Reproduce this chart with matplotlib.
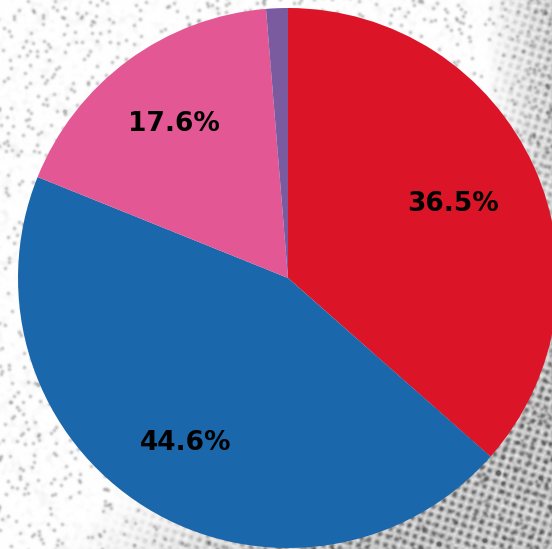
import numpy as np
import matplotlib
matplotlib.use("Agg")
import matplotlib.pyplot as plt

# Share of each group, clockwise from 12 o'clock
labels = ["Red", "Blue", "Pink", "Purple"]
shares = [36.5, 44.6, 17.6, 1.3]
colors = ["#DC1428", "#1A67AB", "#E35795", "#7A5B9F"]
label_dist = [0.67, 0.72, 0.71, 0.7]  # radial position of each percentage label

W, H = 552, 549
cx, cy, R = 288, 278, 270  # pie centre and radius in pixels

fig = plt.figure(figsize=(W / 100, H / 100), dpi=100)
ax = fig.add_axes([0, 0, 1, 1])
ax.set_xlim(-cx, W - cx)
ax.set_ylim(-(H - cy), cy)
ax.set_aspect("equal")
ax.axis("off")


def blur(img, sigma):
    """Gaussian blur via FFT."""
    h, w = img.shape
    fy = np.fft.fftfreq(h)[:, None]
    fx = np.fft.fftfreq(w)[None, :]
    k = np.exp(-2 * (np.pi * sigma) ** 2 * (fx ** 2 + fy ** 2))
    return np.real(np.fft.ifft2(np.fft.fft2(img) * k))


# Burlap-like paper texture behind the pie
rng = np.random.default_rng(11)
yy, xx = np.mgrid[0:H, 0:W].astype(float)
weave = (0.5 + 0.5 * np.sin(2 * np.pi * (xx * 0.95 + yy * 0.3) / 8.5)) * \
        (0.5 + 0.5 * np.sin(2 * np.pi * (yy * 0.95 - xx * 0.3) / 8.5))
weave = blur(weave + 0.6 * rng.random((H, W)), 1.0)
weave = (weave - weave.min()) / (weave.max() - weave.min())
mask = np.clip((xx / W - 0.55) * 2.2 + (yy / H - 0.55) * 2.2, 0, 1) ** 1.2
mask = np.maximum(mask, np.clip((xx / W - 0.88) * 6, 0, 0.7))
specks = blur((rng.random((H, W)) > 0.992).astype(float), 1.4) * 9
specks = np.clip(specks, 0, 1)
haze = blur(rng.random((H, W)), 2.0)
haze = np.clip((haze - haze.mean()) * 6, 0, 1)
dark = np.clip(mask * weave * 0.9 + specks * 0.45 + haze * 0.08 + mask * 0.12, 0, 1)
bg = 1 - 0.62 * dark
ax.imshow(np.dstack([bg, bg, bg]), extent=(-cx, W - cx, -(H - cy), cy),
          zorder=0, interpolation="bilinear")

wedges, texts = ax.pie(
    shares, colors=colors, startangle=90, counterclock=False, radius=R,
    wedgeprops=dict(linewidth=0),
)
for w, share, d in zip(wedges, shares, label_dist):
    w.set_zorder(2)
    if share < 5:
        continue
    ang = np.deg2rad((w.theta1 + w.theta2) / 2)
    ax.text(d * R * np.cos(ang), d * R * np.sin(ang), f"{share:.1f}%",
            ha="center", va="center", fontsize=19, fontweight="bold",
            color="black", zorder=3)

ax.set_xlim(-cx, W - cx)
ax.set_ylim(-(H - cy), cy)
fig.savefig("out.png", dpi=100)
